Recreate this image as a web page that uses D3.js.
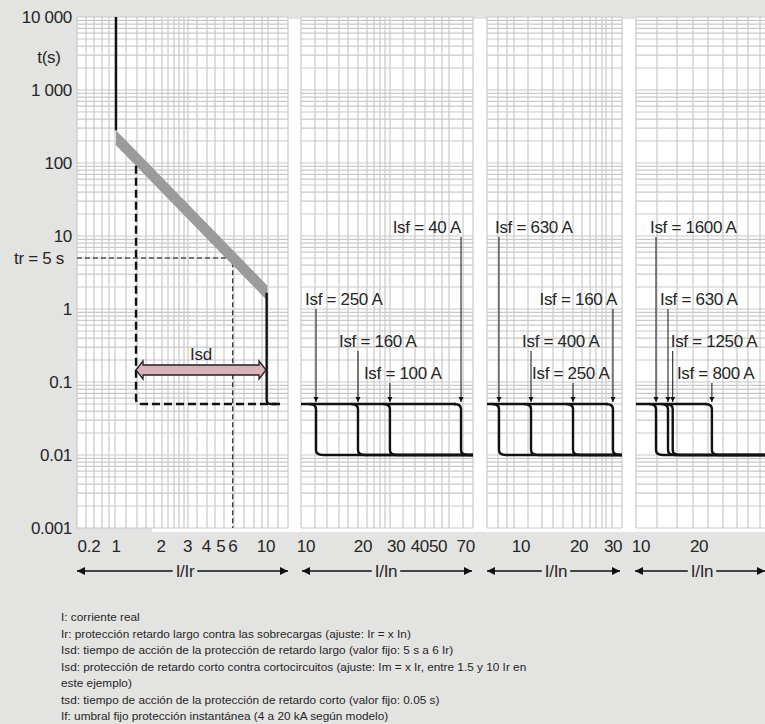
<!DOCTYPE html>
<html>
<head>
<meta charset="utf-8">
<script src="https://cdn.jsdelivr.net/npm/d3@7"></script>
<style>
  html, body { margin: 0; padding: 0; background: #e3e3e2; }
  svg { display: block; }
  .lbl { font-family: "Liberation Sans", Arial, sans-serif; fill: #262626; }
  .big { font-size: 17px; letter-spacing: -0.3px; }
</style>
</head>
<body>
<svg id="chart" width="765" height="724"></svg>
<script>
// ---------------- data ----------------
const timeTicks = [10000, 1000, 100, 10, 1, 0.1, 0.01, 0.001];
const timeTickLabels = ["10 000", "1 000", "100", "10", "1", "0.1", "0.01", "0.001"];
const timeMultiples = [1, 2, 3, 4, 5, 6, 7, 8, 9];
const trSeconds = 5;        // long-delay time
const tsdSeconds = 0.05;    // short-delay time
const instSeconds = 0.01;   // instantaneous clearing time

// Long / short delay panel (I/Ir)
const lrTicks = [0.66, 1, 2, 3, 4, 5, 6, 10];
const lrTickLabels = ["0.2", "1", "2", "3", "4", "5", "6", "10"];
const lrGrid = [0.631, 0.713, 0.807, 0.898, 0.985, 1.166, 1.38, 1.585, 1.792, 2.026, 2.222, 2.436,
                2.63, 2.84, 3.02, 3.467, 4.044, 4.571, 5.248, 6.119, 7.13, 8.318, 9.404, 10.31, 12.02];
const irCurrent = 1;
const bandUpper = [[1, 280], [10.2, 2.1]];
const bandLower = [[1, 175], [10.2, 1.3]];
const isdMin = 1.36;
const isdMax = 10.1;
const trCurrent = 6;
const tsdEnd = 12.9;

// Instantaneous panels (I/In)
const p2Ticks = [10, 20, 30, 40, 50, 70];
const p2Grid = [11.16, 12.91, 14.95, 16.68, 18.84, 21.03, 22.89, 24.63, 26.18, 27.83, 32.61, 37.73,
                42.62, 47.57, 52.44, 57.10, 67.73];
const p2Isf = [11.3, 18.84, 27.8, 66.1];
const p2IsfLabels = ["Isf = 250 A", "Isf = 160 A", "Isf = 100 A", "Isf = 40 A"];

const p3Ticks = [10, 20, 30];
const p3Grid = [7.60, 8.46, 9.20, 10.87, 12.85, 14.65, 16.51, 18.6, 20.71, 22.78, 24.47, 26.29, 27.57, 29.61];
const p3Isf = [7.69, 11.27, 18.6, 29.96];
const p3IsfLabels = ["Isf = 630 A", "Isf = 400 A", "Isf = 250 A", "Isf = 160 A"];

const p4Ticks = [10, 20];
const p4Grid = [12.10, 15.37, 18.6, 22.24, 26.6, 31.44, 35.84, 41.37];
const p4Isf = [11.96, 13.8, 14.6, 23.3];
const p4IsfLabels = ["Isf = 1600 A", "Isf = 630 A", "Isf = 1250 A", "Isf = 800 A"];

const legendLines = [
  "I: corriente real",
  "Ir: protección retardo largo contra las sobrecargas (ajuste: Ir = x In)",
  "Isd: tiempo de acción de la protección de retardo largo (valor fijo: 5 s a 6 Ir)",
  "Isd: protección de retardo corto contra cortocircuitos (ajuste: Im = x Ir, entre 1.5 y 10 Ir en",
  "este ejemplo)",
  "tsd: tiempo de acción de la protección de retardo corto (valor fijo: 0.05 s)",
  "If: umbral fijo protección instantánea (4 a 20 kA según modelo)"
];

// ---------------- layout ----------------
const svg = d3.select("#chart");
const gridTop = 17, gridBottom = 528;
const y = d3.scaleLog().domain([0.001, 10000]).range([gridBottom, gridTop]);

// each panel: log x scale anchored by one reference current and a decade width
function panelScale(left, right, v0, x0, decadePx) {
  const lo = v0 * Math.pow(10, (left - x0) / decadePx);
  const hi = v0 * Math.pow(10, (right - x0) / decadePx);
  return d3.scaleLog().domain([lo, hi]).range([left, right]);
}
const x1 = panelScale(77, 288, 1, 116, 150);
const x2 = panelScale(301, 473, 10, 306, 189);
const x3 = panelScale(487, 622, 10, 521, 193);
const x4 = panelScale(636, 775, 10, 641, 193);

const panels = [
  { x: x1, grid: lrGrid, ticks: lrTicks, tickLabels: lrTickLabels, axis: "I/Ir", arrow: [77, 288], cap: 185 },
  { x: x2, grid: p2Grid, ticks: p2Ticks, tickLabels: p2Ticks.map(String), axis: "I/In", arrow: [302, 472], cap: 386,
    isf: p2Isf, isfLabels: p2IsfLabels,
    rows: [1, 2, 3, 0], dx: [-11, -19, -26, "end"] },
  { x: x3, grid: p3Grid, ticks: p3Ticks, tickLabels: p3Ticks.map(String), axis: "I/In", arrow: [487, 620], cap: 556,
    isf: p3Isf, isfLabels: p3IsfLabels,
    rows: [0, 2, 3, 1], dx: [-4, -9, -41, "end4"] },
  { x: x4, grid: p4Grid, ticks: p4Ticks, tickLabels: p4Ticks.map(String), axis: "I/In", arrow: [635, 765], cap: 702,
    isf: p4Isf, isfLabels: p4IsfLabels,
    rows: [0, 1, 2, 3], dx: [-6, -8, -2, -35] }
];
const rowY = [227, 299, 341, 373];

// white sheet behind the panels
svg.append("rect").attr("x", 152).attr("y", 19).attr("width", 613).attr("height", 513).attr("fill", "#ffffff");

const defs = svg.append("defs");
defs.append("marker").attr("id", "tip").attr("viewBox", "0 0 10 10").attr("refX", 10).attr("refY", 5)
  .attr("markerWidth", 5).attr("markerHeight", 7).attr("markerUnits", "userSpaceOnUse").attr("orient", "auto")
  .append("path").attr("d", "M0,0 L10,5 L0,10 Z").attr("fill", "#111");
defs.append("marker").attr("id", "axtip").attr("viewBox", "0 0 10 10").attr("refX", 10).attr("refY", 5)
  .attr("markerWidth", 11).attr("markerHeight", 8).attr("markerUnits", "userSpaceOnUse").attr("orient", "auto-start-reverse")
  .append("path").attr("d", "M0,0 L10,5 L0,10 Z").attr("fill", "#111");

// grids
const hValues = [];
for (let k = -3; k < 4; k++) timeMultiples.forEach(m => hValues.push(m * Math.pow(10, k)));
hValues.push(10000);

panels.forEach(p => {
  const [l, r] = p.x.range();
  const g = svg.append("g");
  g.append("rect").attr("x", l).attr("y", gridTop).attr("width", Math.min(r, 765) - l).attr("height", gridBottom - gridTop)
    .attr("fill", "#fff");
  g.selectAll("line.h").data(hValues).join("line")
    .attr("x1", l).attr("x2", r).attr("y1", d => y(d)).attr("y2", d => y(d))
    .attr("stroke", "#c9c9c9").attr("stroke-width", 1.2);
  g.selectAll("line.v").data([p.x.domain()[0], ...p.grid, p.x.domain()[1]]).join("line")
    .attr("x1", d => p.x(d)).attr("x2", d => p.x(d)).attr("y1", gridTop).attr("y2", gridBottom)
    .attr("stroke", "#c9c9c9").attr("stroke-width", 1.2);

  // tick labels under the panel
  svg.append("g").selectAll("text").data(p.ticks).join("text")
    .attr("class", "lbl big").attr("x", d => p.x(d)).attr("y", 552).attr("text-anchor", "middle")
    .text((d, i) => p.tickLabels[i]);

  // double-headed axis arrow with its caption
  const [a0, a1] = p.arrow;
  const cx = p.cap;
  const cap = svg.append("text").attr("class", "lbl big").attr("x", cx).attr("y", 577).attr("text-anchor", "middle")
    .text(p.axis);
  const half = cap.node().getComputedTextLength() / 2 + 3;
  svg.append("line").attr("x1", cx - half).attr("x2", a0).attr("y1", 571).attr("y2", 571)
    .attr("stroke", "#111").attr("stroke-width", 1.6).attr("marker-end", "url(#axtip)");
  svg.append("line").attr("x1", cx + half).attr("x2", a1).attr("y1", 571).attr("y2", 571)
    .attr("stroke", "#111").attr("stroke-width", 1.6).attr("marker-end", "url(#axtip)");
});

// time axis labels
svg.append("g").selectAll("text").data(timeTicks).join("text")
  .attr("class", "lbl big").attr("x", 72).attr("y", d => y(d) + 6).attr("text-anchor", "end")
  .text((d, i) => timeTickLabels[i]);
svg.append("text").attr("class", "lbl big").attr("x", 49).attr("y", 63).attr("text-anchor", "middle")
  .text("t(s)");
svg.append("text").attr("class", "lbl big").attr("x", 64).attr("y", y(trSeconds) + 6).attr("text-anchor", "end")
  .text("tr = 5 s");

// ---- long / short delay curve ----
const line = d3.line();
// thin dashed: tr level and its current
svg.append("path")
  .attr("d", line([[x1.range()[0], y(trSeconds)], [x1(trCurrent), y(trSeconds)], [x1(trCurrent), gridBottom]]))
  .attr("fill", "none").attr("stroke", "#111").attr("stroke-width", 1.1).attr("stroke-dasharray", "5,3");

// tolerance band
const band = [bandUpper[0], bandUpper[1], bandLower[1], bandLower[0]].map(d => [x1(d[0]), y(d[1])]);
svg.append("path").attr("d", line(band) + "Z").attr("fill", "#9b9b9b");

// lower edge of band at Isd min
const slope = (Math.log10(bandLower[0][1]) - Math.log10(bandLower[1][1])) / (Math.log10(bandLower[1][0]) - Math.log10(bandLower[0][0]));
const tAtIsd = bandLower[0][1] * Math.pow(isdMin / bandLower[0][0], -slope);

// thick dashed short-delay setting range
const xs = x1(isdMin), ytsd = y(tsdSeconds), rr = 5;
svg.append("path")
  .attr("d", `M${xs},${y(tAtIsd)} L${xs},${ytsd - rr} Q${xs},${ytsd} ${xs + rr},${ytsd} L${x1(tsdEnd)},${ytsd}`)
  .attr("fill", "none").attr("stroke", "#111").attr("stroke-width", 2.4).attr("stroke-dasharray", "8,4");

// thermal threshold vertical
svg.append("path").attr("d", line([[x1(irCurrent), y(10000)], [x1(irCurrent), y(bandUpper[0][1])]]))
  .attr("fill", "none").attr("stroke", "#111").attr("stroke-width", 2.4);

// short-delay drop at Isd max
const xd = x1(isdMax);
svg.append("path")
  .attr("d", `M${xd},${y(bandLower[1][1]) - 8} L${xd},${ytsd - 4} Q${xd},${ytsd} ${xd + 4},${ytsd} L${xd + 10},${ytsd}`)
  .attr("fill", "none").attr("stroke", "#111").attr("stroke-width", 2.4);

// Isd double arrow
(function () {
  const ya = 370, a = x1(isdMin), b = x1(10), hb = 5, hh = 9, hl = 7;
  const pts = [[a, ya], [a + hl, ya - hh], [a + hl, ya - hb], [b - hl, ya - hb], [b - hl, ya - hh], [b, ya],
               [b - hl, ya + hh], [b - hl, ya + hb], [a + hl, ya + hb], [a + hl, ya + hh]];
  svg.append("path").attr("d", line(pts) + "Z").attr("fill", "#dbb2ba").attr("stroke", "#222").attr("stroke-width", 1.3);
  svg.append("text").attr("class", "lbl big").attr("x", (a + b) / 2).attr("y", 360).attr("text-anchor", "middle")
    .text("Isd");
})();

// ---- instantaneous trip curves ----
panels.slice(1).forEach(p => {
  const [l, r] = p.x.range();
  const right = Math.min(r, 765);
  const yt = y(tsdSeconds), yb = y(instSeconds), c = 5;
  const g = svg.append("g");
  const lastX = p.x(d3.max(p.isf));
  g.append("path").attr("d", `M${l},${yt} L${lastX - c},${yt}`)
    .attr("fill", "none").attr("stroke", "#111").attr("stroke-width", 2.4);
  p.isf.forEach((v, i) => {
    const xv = p.x(v);
    g.append("path")
      .attr("d", `M${xv - c - 2},${yt} Q${xv},${yt} ${xv},${yt + c} L${xv},${yb - c} Q${xv},${yb} ${xv + c + 2},${yb} L${right},${yb}`)
      .attr("fill", "none").attr("stroke", "#111").attr("stroke-width", 2.4);

    // annotation
    const ry = rowY[p.rows[i]];
    const t = svg.append("text").attr("class", "lbl big").attr("y", ry + 6).text(p.isfLabels[i]);
    const dx = p.dx[i];
    if (dx === "end") t.attr("x", xv).attr("text-anchor", "end");
    else if (dx === "end4") t.attr("x", xv + 4).attr("text-anchor", "end");
    else t.attr("x", xv + dx);
    svg.append("line").attr("x1", xv).attr("x2", xv).attr("y1", ry + 10).attr("y2", yt - 2)
      .attr("stroke", "#111").attr("stroke-width", 1).attr("marker-end", "url(#tip)");
  });
});

// legend
svg.append("g").selectAll("text").data(legendLines).join("text")
  .attr("class", "lbl").attr("x", 61).attr("y", (d, i) => 621 + i * 16.5)
  .attr("font-size", 11.8).text(d => d);
</script>
</body>
</html>
